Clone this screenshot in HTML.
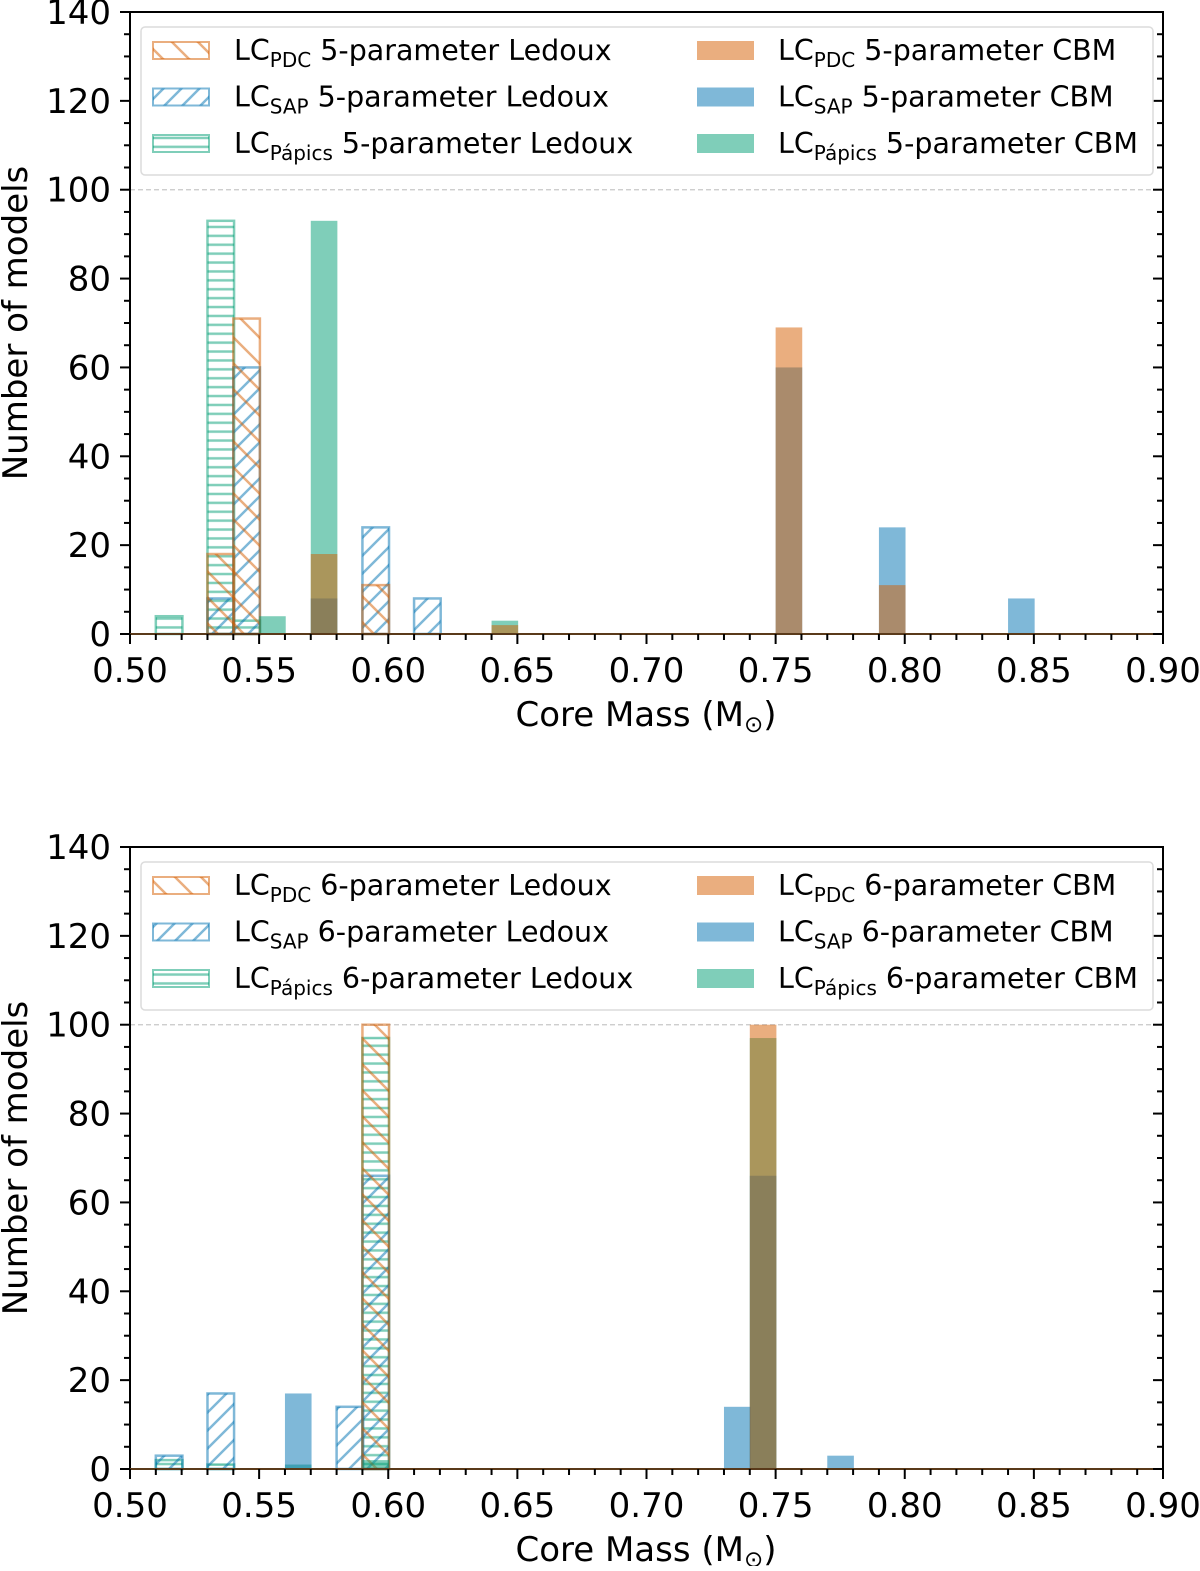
<!DOCTYPE html>
<html><head><meta charset="utf-8"><style>
html,body{margin:0;padding:0;background:#fff;}
svg text{font-family:"DejaVu Sans","Liberation Sans",sans-serif;fill:#000;}
</style></head><body>
<svg id="chart" xmlns="http://www.w3.org/2000/svg" width="1200" height="1566" viewBox="0 0 1200 1566">
<defs>
<pattern id="hOr" patternUnits="userSpaceOnUse" width="26" height="26"><path d="M-6.5,-6.5 L32.5,32.5 M-6.5,19.5 L6.5,32.5 M19.5,-6.5 L32.5,6.5" stroke="rgba(213,94,0,0.5)" stroke-width="2.5"/></pattern>
<pattern id="hBl" patternUnits="userSpaceOnUse" width="18" height="18"><path d="M-4.5,22.5 L22.5,-4.5 M-4.5,4.5 L4.5,-4.5 M13.5,22.5 L22.5,13.5" stroke="rgba(0,114,178,0.5)" stroke-width="2.5"/></pattern>
<pattern id="hGr" patternUnits="userSpaceOnUse" width="10" height="8.9"><path d="M0,4.45 L10,4.45" stroke="rgba(0,158,115,0.5)" stroke-width="2.5"/></pattern>
</defs>
<g id="top"></g>
<g id="bot"></g>
</svg>
<script>
// bin start masses and counts, top panel (5-parameter)
const t_pdcL_x=[0.53,0.54,0.59];        const t_pdcL_y=[18,71,11];
const t_sapL_x=[0.53,0.54,0.59,0.61];   const t_sapL_y=[8,60,24,8];
const t_papL_x=[0.51,0.53,0.54];        const t_papL_y=[4,93,3];
const t_pdcC_x=[0.57,0.64,0.75,0.79];   const t_pdcC_y=[18,2,69,11];
const t_sapC_x=[0.57,0.75,0.79,0.84];   const t_sapC_y=[8,60,24,8];
const t_papC_x=[0.55,0.57,0.64];        const t_papC_y=[4,93,3];
// bottom panel (6-parameter)
const b_pdcL_x=[0.59];                  const b_pdcL_y=[100];
const b_sapL_x=[0.51,0.53,0.58,0.59];   const b_sapL_y=[3,17,14,66];
const b_papL_x=[0.51,0.53,0.59];        const b_papL_y=[2,1,97];
const b_pdcC_x=[0.74];                  const b_pdcC_y=[100];
const b_sapC_x=[0.56,0.73,0.74,0.77];   const b_sapC_y=[17,14,66,3];
const b_papC_x=[0.56,0.59,0.74];        const b_papC_y=[1,2,97];
const xTicks=[0.50,0.55,0.60,0.65,0.70,0.75,0.80,0.85,0.90];
const yTicks=[0,20,40,60,80,100,120,140];
const binW=0.0103;

const NS="http://www.w3.org/2000/svg";
function mk(parent,tag,attrs){const e=document.createElementNS(NS,tag);for(const k in attrs)e.setAttribute(k,attrs[k]);parent.appendChild(e);return e;}

function panel(g,y0,nParam,series){
  const X0=130,X1=1163,Y0=y0,Y1=y0-622;
  const sx=v=>X0+(v-0.5)/0.4*(X1-X0);
  const sy=v=>Y0-v/140*(Y0-Y1);
  const dl=mk(g,'line',{x1:X0,x2:X1,y1:sy(100),y2:sy(100),stroke:'#c8c8c8','stroke-width':1.2,'stroke-dasharray':'5,3'});
  
  
  // bars: draw in reverse order (Papics, SAP, PDC) so PDC lies on top
  const drawOrder=[2,1,0,5,4,3];
  drawOrder.forEach(si=>{
    const s=series[si];
    s.x.forEach((v,i)=>{
      const x=sx(v),w=sx(v+binW)-x,y=sy(s.y[i]),h=Y0-y;
      if(s.hatch){
        const r=mk(g,'rect',{x:x,y:y,width:w,height:h,fill:'url(#'+s.hatch+')',stroke:s.col,'stroke-width':2.5});
        
        
      } else {
        const r=mk(g,'rect',{x:x,y:y,width:w,height:h,fill:s.col});
        
        
      }
    });
  });
  const ax=mk(g,'rect',{x:X0,y:Y1,width:X1-X0,height:Y0-Y1,fill:'none',stroke:'#000','stroke-width':2});
  
  
  mk(g,'line',{x1:X0,x2:X1,y1:Y0,y2:Y0,stroke:'#5a3a1a','stroke-width':2});
  for(let k=0;k<=40;k++){const v=0.5+k*0.01;const x=sx(v);const maj=k%5==0;
    mk(g,'line',{x1:x,x2:x,y1:Y0,y2:Y0+(maj?10:6),stroke:'#000','stroke-width':2});}
  xTicks.forEach(v=>{const t=mk(g,'text',{x:sx(v),y:Y0+48,'font-size':34,'text-anchor':'middle'});t.textContent=v.toFixed(2);
    
    });
  for(let v=0;v<=140;v+=5){const y=sy(v);const maj=v%20==0;
    mk(g,'line',{x1:X0-(maj?10:6),x2:X0,y1:y,y2:y,stroke:'#000','stroke-width':2});
    mk(g,'line',{x1:X1,x2:X1-(maj?10:6),y1:y,y2:y,stroke:'#000','stroke-width':2});}
  yTicks.forEach(v=>{const t=mk(g,'text',{x:111,y:sy(v)+12,'font-size':34,'text-anchor':'end'});t.textContent=v;
    
    });
  const xt=mk(g,'text',{x:646,y:Y0+92,'font-size':34,'text-anchor':'middle'});
  xt.innerHTML='Core Mass (M<tspan font-size="23" dy="6">⊙</tspan><tspan dy="-6">)</tspan>';
  
  
  const yt=mk(g,'text',{x:0,y:0,'font-size':34,'text-anchor':'middle',transform:'translate(27,'+(Y0-311)+') rotate(-90)'});
  yt.textContent='Number of models';
  
  
  const LY=Y1+15;
  const lb=mk(g,'rect',{x:141,y:LY,width:1012,height:148,rx:4,fill:'rgba(255,255,255,0.8)',stroke:'#dcdcdc','stroke-width':1.5});
  
  
  series.forEach((s,i)=>{
    const col=i<3?0:1,row=i%3;
    const px=col?697:153,tx=col?778:234,cy=LY+23+row*46.5;
    const le=mk(g,'g',{});
    
    
    if(s.hatch) mk(le,'rect',{x:px,y:cy-8,width:56,height:17,fill:'url(#'+s.hatch+')',stroke:s.col,'stroke-width':2});
    else mk(le,'rect',{x:px,y:cy-9,width:57,height:19,fill:s.col});
    const t=mk(le,'text',{x:tx,y:cy+10,'font-size':28.5});
    t.innerHTML='LC<tspan font-size="20" dy="7">'+s.sub+'</tspan><tspan dy="-7"> '+nParam+'-parameter '+(s.hatch?'Ledoux':'CBM')+'</tspan>';
  });
}
const OR='rgba(213,94,0,0.5)',BL='rgba(0,114,178,0.5)',GR='rgba(0,158,115,0.5)';
panel(document.getElementById('top'),634,5,[
 {name:'pdc-ledoux',sub:'PDC',x:t_pdcL_x,y:t_pdcL_y,col:OR,hatch:'hOr'},
 {name:'sap-ledoux',sub:'SAP',x:t_sapL_x,y:t_sapL_y,col:BL,hatch:'hBl'},
 {name:'papics-ledoux',sub:'Pápics',x:t_papL_x,y:t_papL_y,col:GR,hatch:'hGr'},
 {name:'pdc-cbm',sub:'PDC',x:t_pdcC_x,y:t_pdcC_y,col:OR},
 {name:'sap-cbm',sub:'SAP',x:t_sapC_x,y:t_sapC_y,col:BL},
 {name:'papics-cbm',sub:'Pápics',x:t_papC_x,y:t_papC_y,col:GR}]);
panel(document.getElementById('bot'),1469,6,[
 {name:'pdc-ledoux',sub:'PDC',x:b_pdcL_x,y:b_pdcL_y,col:OR,hatch:'hOr'},
 {name:'sap-ledoux',sub:'SAP',x:b_sapL_x,y:b_sapL_y,col:BL,hatch:'hBl'},
 {name:'papics-ledoux',sub:'Pápics',x:b_papL_x,y:b_papL_y,col:GR,hatch:'hGr'},
 {name:'pdc-cbm',sub:'PDC',x:b_pdcC_x,y:b_pdcC_y,col:OR},
 {name:'sap-cbm',sub:'SAP',x:b_sapC_x,y:b_sapC_y,col:BL},
 {name:'papics-cbm',sub:'Pápics',x:b_papC_x,y:b_papC_y,col:GR}]);
</script>
</body></html>
